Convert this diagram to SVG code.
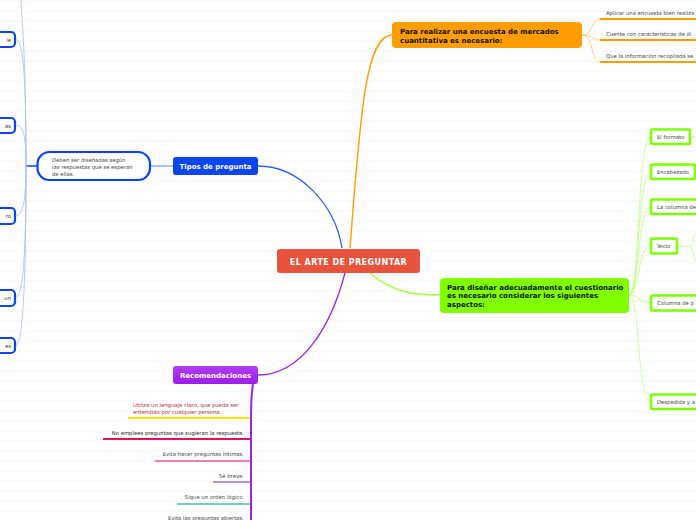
<svg xmlns="http://www.w3.org/2000/svg" width="696" height="520" viewBox="0 0 696 520">
<defs>
<pattern id="bg" width="696" height="10" patternUnits="userSpaceOnUse">
<rect x="0" y="0.5" width="696" height="1" fill="#f6f6f6"/>
</pattern>
<linearGradient id="pg" x1="0" y1="0" x2="0" y2="1">
<stop offset="0" stop-color="#b13cf5"/>
<stop offset="1" stop-color="#9a1ee8"/>
</linearGradient>
<style>
text{font-family:"DejaVu Sans",Verdana,sans-serif}
.w{fill:#fff;font-weight:bold}
.b{fill:#111;font-weight:bold;font-size:7px}
.s{fill:#444;font-size:5.3px}
.lb{fill:#fff;stroke:#0a45f0;stroke-width:2.2}
.gb{fill:#fff;stroke:#7cff00;stroke-width:2.6}
.cb{fill:none;stroke:#a8c2ff;stroke-width:0.9}
.cg{fill:none;stroke:#c2ff8c;stroke-width:0.9}
.co{fill:none;stroke:#ffc873;stroke-width:0.9}
</style>
</defs>
<rect width="696" height="520" fill="#fff"/>
<rect width="696" height="520" fill="url(#bg)"/>

<g id="connectors">
<path d="M342,248 C335,205 300,166 258,166" fill="none" stroke="#2f62f5" stroke-width="1.3"/>
<path d="M350,248 C360,120 365,35 392,35" fill="none" stroke="#ff9c00" stroke-width="1.4"/>
<path d="M370,273 C395,295 420,295 440,295" fill="none" stroke="#9cff3a" stroke-width="1.3"/>
<path d="M345,273 C330,330 300,375 258,375" fill="none" stroke="#a020f0" stroke-width="1.3"/>
<path d="M150,166 L173,166" stroke="#a9c3ff" stroke-width="2"/>
<path d="M37,166 L26,166" stroke="#0a45f0" stroke-width="1.5"/>
<path class="cb" d="M26,166 C26,60 22,20 21,0"/>
<path class="cb" d="M26,166 C26,60 22,39 15,39"/>
<path class="cb" d="M26,166 C26,130 22,125 15,125"/>
<path class="cb" d="M26,166 C26,205 22,216 15,216"/>
<path class="cb" d="M26,166 C26,270 22,298 15,298"/>
<path class="cb" d="M26,166 C26,300 22,346 15,346"/>
<path class="co" d="M582,35 C594,35 590,19 601,19"/>
<path class="co" d="M582,35 C594,35 590,40 601,40"/>
<path class="co" d="M582,35 C594,35 590,62 601,62"/>
<path d="M600,19 L696,19 M600,40 L696,40 M600,62 L696,62" stroke="#ff9c00" stroke-width="2"/>
<path class="cg" d="M629,295 C640,295 637,137 651,137"/>
<path class="cg" d="M629,295 C640,295 637,172 651,172"/>
<path class="cg" d="M629,295 C640,295 637,207 651,207"/>
<path class="cg" d="M629,295 C640,295 637,246 651,246"/>
<path class="cg" d="M629,295 C640,295 637,303 651,303"/>
<path class="cg" d="M629,295 C640,295 637,402 651,402"/>
<path class="cg" d="M690,137 L696,137"/>
<path class="cg" d="M677,246 L690,246 C693,246 693,236 696,234 M690,246 C693,246 693,258 696,262"/>
<path d="M253,384 C251,395 251,400 251,420 L251,520" fill="none" stroke="#a020f0" stroke-width="2"/>
<path d="M128,418 L250,418" stroke="#ffe600" stroke-width="2"/>
<path d="M103,439 L250,439" stroke="#e3125c" stroke-width="2"/>
<path d="M155,461 L250,461" stroke="#f27fab" stroke-width="2"/>
<path d="M213,482 L250,482" stroke="#b195cf" stroke-width="2"/>
<path d="M177,504 L250,504" stroke="#74d3c2" stroke-width="2"/>
</g>

<g id="center">
<rect x="277" y="249" width="143" height="24" rx="3" fill="#e8533b"/>
<text x="348.5" y="264.5" class="w" font-size="8" text-anchor="middle" letter-spacing="0.45">EL ARTE DE PREGUNTAR</text>
</g>

<g id="tipos">
<rect x="173" y="157" width="85" height="18" rx="3" fill="#0a45f0"/>
<text x="215.5" y="168.8" class="w" font-size="7" text-anchor="middle">Tipos de pregunta</text>
</g>

<g id="deben">
<rect x="37.5" y="152" width="112.5" height="28" rx="12" class="lb"/>
<text class="s" x="52" y="162">Deben ser diseñadas según</text>
<text class="s" x="52" y="169">las respuestas que se esperan</text>
<text class="s" x="52" y="176">de ellas.</text>
</g>

<g id="left1"><rect x="-10" y="32" width="25" height="15" rx="4" class="lb"/><text class="s" x="11" y="41.5" text-anchor="end" font-size="6.3" style="fill:#333">le</text></g>
<g id="left2"><rect x="-10" y="118" width="25" height="15" rx="4" class="lb"/><text class="s" x="11" y="127.5" text-anchor="end" font-size="6.3" style="fill:#333">as</text></g>
<g id="left3"><rect x="-10" y="208" width="25" height="16" rx="4" class="lb"/><text class="s" x="11" y="218" text-anchor="end" font-size="6.3" style="fill:#333">ro</text></g>
<g id="left4"><rect x="-10" y="290" width="25" height="16" rx="4" class="lb"/><text class="s" x="11" y="300" text-anchor="end" font-size="6.3" style="fill:#333">un</text></g>
<g id="left5"><rect x="-10" y="338" width="25" height="15" rx="4" class="lb"/><text class="s" x="11" y="348" text-anchor="end" font-size="6.3" style="fill:#333">es</text></g>

<g id="orange">
<rect x="392" y="22" width="190" height="26" rx="4" fill="#ff9c00"/>
<text class="b" x="400" y="33.5">Para realizar una encuesta de mercados</text>
<text class="b" x="400" y="42.5">cuantitativa es necesario:</text>
</g>
<g id="o1"><text class="s" x="606" y="15">Aplicar una encuesta bien realiza</text></g>
<g id="o2"><text class="s" x="606" y="36">Cuente con características de di</text></g>
<g id="o3"><text class="s" x="606" y="58">Que la información recopilada se</text></g>

<g id="green">
<rect x="440" y="278" width="189" height="35" rx="4" fill="#80ff00"/>
<text class="b" x="447" y="289.5">Para diseñar adecuadamente el cuestionario</text>
<text class="b" x="447" y="298">es necesario considerar los siguientes</text>
<text class="b" x="447" y="306.5">aspectos:</text>
</g>
<g id="g1"><rect x="651" y="129.5" width="39" height="14.5" rx="1.5" class="gb"/><text class="s" x="657" y="139">El formato</text></g>
<g id="g2"><rect x="651" y="164.5" width="44" height="14.5" rx="1.5" class="gb"/><text class="s" x="657" y="174">Encabezado</text></g>
<g id="g3"><rect x="651" y="199.5" width="55" height="14.5" rx="1.5" class="gb"/><text class="s" x="657" y="209">La columna de</text></g>
<g id="g4"><rect x="651" y="238.5" width="26" height="15" rx="1.5" class="gb"/><text class="s" x="656.5" y="248">Texto</text></g>
<g id="g5"><rect x="651" y="295.5" width="55" height="15" rx="1.5" class="gb"/><text class="s" x="657" y="305">Columna de p</text></g>
<g id="g6"><rect x="651" y="394.5" width="55" height="14.5" rx="1.5" class="gb"/><text class="s" x="657" y="404">Despedida y a</text></g>

<g id="recom">
<rect x="173" y="366" width="85" height="18" rx="3" fill="url(#pg)"/>
<text x="215.5" y="377.8" class="w" font-size="7" text-anchor="middle">Recomendaciones</text>
</g>
<g id="r1"><text class="s" x="133" y="407" style="fill:#a8302c">Utiliza un lenguaje claro, que pueda ser</text><text class="s" x="133" y="413.5" style="fill:#a8302c">entendido por cualquier persona.</text></g>
<g id="r2"><text class="s" x="244" y="435" text-anchor="end" style="fill:#222">No emplees preguntas que sugieran la respuesta.</text></g>
<g id="r3"><text class="s" x="244" y="456" text-anchor="end">Evita hacer preguntas íntimas.</text></g>
<g id="r4"><text class="s" x="244" y="478" text-anchor="end">Sé breve.</text></g>
<g id="r5"><text class="s" x="244" y="499" text-anchor="end">Sigue un orden lógico.</text></g>
<g id="r6"><text class="s" x="244" y="520" text-anchor="end">Evita las preguntas abiertas.</text></g>
</svg>
